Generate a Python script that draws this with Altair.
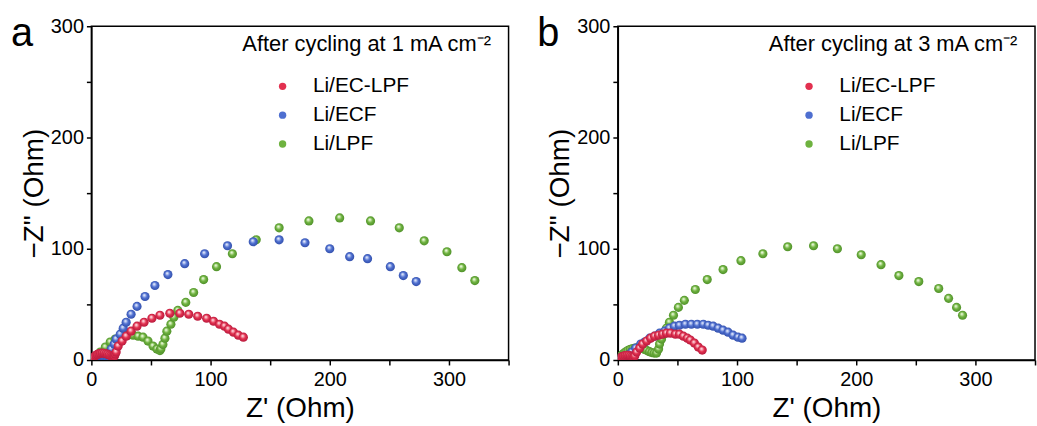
import altair as alt
import pandas as pd

# Nyquist data (Z' vs -Z'') after cycling, values in Ohm
SERIES = ["Li/EC-LPF", "Li/ECF", "Li/LPF"]
COLORS = ["#E2304F", "#4E6FD0", "#6EB23F"]
RIMS = ["#B0163A", "#2F4BA6", "#4C8C27"]
TINTS = ["#F7A5B3", "#B3C3F0", "#C6E6A8"]

# panel a: 1 mA cm-2
A_ECLPF_X = [0.5, 1.0, 1.8, 2.7, 3.8, 5.0, 6.3, 7.7, 9.2, 10.7, 12.2, 13.6, 15.0, 16.3, 17.5, 18.6, 19.4, 20.0, 20.8, 22.5,
             25.8, 29.2, 33.3, 38.3, 44.2, 50.8, 57.5, 65.8, 74.2, 81.7, 89.2, 96.7, 102.5, 107.5, 111.7, 115.0, 119.2, 123.3, 127.5]
A_ECLPF_Y = [0.5, 1.5, 2.5, 3.4, 4.2, 5.0, 5.6, 6.0, 6.2, 6.1, 5.7, 5.1, 4.4, 3.8, 3.4, 3.3, 3.6, 5.4, 7.1, 12.5,
             17.0, 21.4, 25.9, 30.4, 33.9, 37.5, 40.2, 42.0, 42.0, 41.1, 39.3, 37.5, 34.8, 32.1, 30.4, 27.7, 25.0, 22.3, 20.5]
A_ECF_X = [0.5, 1.2, 2.2, 3.4, 4.8, 6.3, 7.8, 9.3, 10.8, 12.2, 13.5, 14.5, 15.3, 16.7, 19.2, 20.8, 24.2, 26.7, 29.2, 33.3,
           38.3, 45.0, 53.3, 64.2, 78.3, 95.0, 114.2, 135.8, 157.5, 179.2, 200.0, 216.7, 231.7, 250.8, 261.7, 272.5]
A_ECF_Y = [0.5, 1.5, 2.4, 3.1, 3.6, 3.8, 3.8, 3.5, 3.0, 2.6, 2.5, 3.2, 5.4, 9.8, 14.3, 18.8, 23.2, 28.6, 33.9, 41.1,
           48.2, 57.1, 67.0, 76.8, 86.6, 95.5, 102.7, 106.3, 108.0, 105.4, 100.0, 92.9, 91.1, 83.9, 75.9, 70.5]
A_LPF_X = [0.5, 1.5, 3.3, 7.5, 11.7, 15.8, 20.0, 25.0, 30.8, 35.0, 39.2, 43.3, 47.5, 51.7, 55.0, 57.5, 58.3, 60.0, 61.7, 63.3,
           66.7, 69.2, 72.5, 79.2, 85.8, 94.2, 105.0, 118.3, 138.3, 157.5, 182.5, 208.3, 234.2, 258.3, 279.2, 298.3, 310.8, 321.7]
A_LPF_Y = [0.3, 1.2, 2.7, 7.1, 11.6, 16.1, 18.8, 21.4, 22.3, 22.3, 21.4, 20.5, 17.0, 12.5, 9.8, 8.5, 10.0, 14.0, 19.6, 25.9,
           32.1, 38.4, 44.6, 51.8, 60.7, 72.3, 83.9, 95.5, 108.0, 118.8, 125.0, 127.7, 125.0, 118.8, 107.1, 97.3, 83.0, 71.4]

# panel b: 3 mA cm-2
B_ECLPF_X = [0.5, 1.3, 2.3, 3.5, 4.8, 6.2, 7.7, 9.2, 10.6, 12.0, 13.2, 14.2, 15.8, 18.3, 20.8, 24.2, 27.5, 30.8, 34.2, 37.5,
             40.8, 44.2, 48.3, 51.7, 55.0, 58.3, 60.8, 64.2, 67.5, 70.8]
B_ECLPF_Y = [0.4, 1.3, 2.2, 3.0, 3.6, 4.0, 4.2, 4.1, 3.7, 3.2, 2.9, 3.6, 7.1, 10.7, 14.3, 17.0, 19.6, 21.4, 22.3, 23.2,
             24.1, 24.1, 23.2, 23.2, 21.4, 19.6, 17.9, 15.2, 11.6, 8.9]
B_ECF_X = [0.5, 1.3, 2.3, 3.5, 4.9, 6.5, 8.3, 11.7, 15.0, 19.2, 22.5, 26.7, 30.8, 35.0, 39.2, 43.3, 47.5, 51.7, 56.7, 61.7,
           66.7, 71.7, 75.8, 80.0, 84.2, 88.3, 92.5, 96.7, 100.8, 104.2]
B_ECF_Y = [0.4, 1.2, 2.0, 2.7, 3.2, 3.8, 4.5, 7.1, 10.7, 14.3, 16.1, 19.6, 21.4, 24.1, 25.9, 28.6, 30.4, 31.2, 32.1, 32.1,
           32.1, 32.1, 31.2, 30.4, 28.6, 26.8, 25.0, 22.3, 20.5, 19.6]
B_LPF_X = [0.5, 1.3, 2.3, 3.5, 5.0, 6.7, 8.5, 10.5, 12.5, 14.5, 16.5, 18.5, 20.5, 22.5, 24.5, 26.5, 28.5, 30.5, 32.5, 34.2,
           35.0, 36.7, 38.3, 40.8, 43.3, 46.7, 50.8, 55.8, 65.0, 75.0, 88.3, 103.3, 121.7, 142.5, 164.2, 184.2, 204.2, 220.8, 235.8, 252.5,
           269.2, 277.5, 284.2, 289.2]
B_LPF_Y = [0.5, 1.8, 3.2, 4.6, 6.0, 7.4, 8.6, 9.6, 10.3, 10.8, 11.0, 10.8, 10.3, 9.5, 8.5, 7.5, 6.7, 6.2, 6.2, 9.8,
           14.3, 18.8, 23.2, 28.6, 33.9, 40.2, 47.3, 53.6, 63.4, 72.3, 81.3, 89.3, 95.5, 101.8, 102.7, 100.0, 94.6, 85.7, 75.9, 70.5,
           64.3, 55.4, 47.3, 40.2]

FONT = "Liberation Sans"
W, H = 420, 336


def frame(pairs):
    rows = []
    for name, (xs, ys) in zip(SERIES, pairs):
        for x, y in zip(xs, ys):
            rows.append({"series": name, "zre": x, "zim": y})
    return pd.DataFrame(rows)


def ball(color, tint, rim):
    return {
        "gradient": "radial",
        "x1": 0.4, "y1": 0.33, "r1": 0.0,
        "x2": 0.5, "y2": 0.5, "r2": 0.55,
        "stops": [
            {"offset": 0.0, "color": "#ffffff"},
            {"offset": 0.22, "color": tint},
            {"offset": 0.5, "color": color},
            {"offset": 1.0, "color": rim},
        ],
    }


x_enc = alt.X("zre:Q", title="Z' (Ohm)",
              scale=alt.Scale(domain=[0, 350], nice=False, zero=False),
              axis=alt.Axis(values=list(range(0, 351, 50)),
                            labelExpr="datum.value % 100 == 0 ? datum.label : ''"))
y_enc = alt.Y("zim:Q", title='\u2212Z" (Ohm)',
              scale=alt.Scale(domain=[0, 300], nice=False, zero=False),
              axis=alt.Axis(values=list(range(0, 301, 50)),
                            labelExpr="datum.value % 100 == 0 ? datum.label : ''"))


def panel(letter, df, legend_title):
    base = alt.Chart(df).mark_circle(size=30, opacity=1, clip=True).encode(
        x=x_enc, y=y_enc,
        color=alt.Color("series:N",
                        scale=alt.Scale(domain=SERIES, range=COLORS),
                        legend=alt.Legend(title=legend_title, orient="none",
                                          legendX=152, legendY=8,
                                          symbolType="circle", symbolSize=55,
                                          symbolOffset=30, labelOffset=20,
                                          rowPadding=7, titlePadding=20,
                                          padding=0)),
    )
    layers = [base]
    # draw back to front: green, blue, red
    for i in [2, 1, 0]:
        name = SERIES[i]
        layers.append(
            alt.Chart(df).transform_filter(alt.datum.series == name)
            .mark_circle(size=85, opacity=1, clip=True,
                         fill=ball(COLORS[i], TINTS[i], RIMS[i]))
            .encode(x=x_enc, y=y_enc)
        )
    tag = alt.Chart(pd.DataFrame({"t": [letter]})).mark_text(
        font=FONT, fontSize=40, align="left", baseline="alphabetic", color="black"
    ).encode(x=alt.value(-81), y=alt.value(20), text="t:N")
    layers.append(tag)
    return alt.layer(*layers).properties(width=W, height=H)


df_a = frame([(A_ECLPF_X, A_ECLPF_Y), (A_ECF_X, A_ECF_Y), (A_LPF_X, A_LPF_Y)])
df_b = frame([(B_ECLPF_X, B_ECLPF_Y), (B_ECF_X, B_ECF_Y), (B_LPF_X, B_LPF_Y)])

pa = panel("a", df_a, "After cycling at 1 mA cm\u207b\u00b2")
pb = panel("b", df_b, "After cycling at 3 mA cm\u207b\u00b2")

chart = (
    alt.hconcat(pa, pb, spacing=26)
    .resolve_scale(color="independent")
    .resolve_legend(color="independent")
    .properties(padding={"left": 10, "top": 12, "right": 0, "bottom": 0}, background="white")
    .configure_view(stroke="black", strokeWidth=1.5)
    .configure_axis(
        grid=False, domainColor="black", domainWidth=1.5, tickColor="black", tickWidth=1.5,
        tickSize=5, labelFont=FONT, labelFontSize=20, labelColor="black", labelPadding=3,
        titleFont=FONT, titleFontSize=28, titleFontWeight="normal", titleColor="black",
        labelFlush=False, labelOverlap=False,
    )
    .configure_axisX(titlePadding=5, labelPadding=5)
    .configure_axisY(titlePadding=2)
    .configure_legend(
        titleFont=FONT, titleFontSize=22, titleFontWeight="normal", titleColor="black",
        labelFont=FONT, labelFontSize=21, labelColor="black", titleLimit=400, labelLimit=300,
    )
)

chart.save("out.html", embed_options={"renderer": "svg", "actions": False})
